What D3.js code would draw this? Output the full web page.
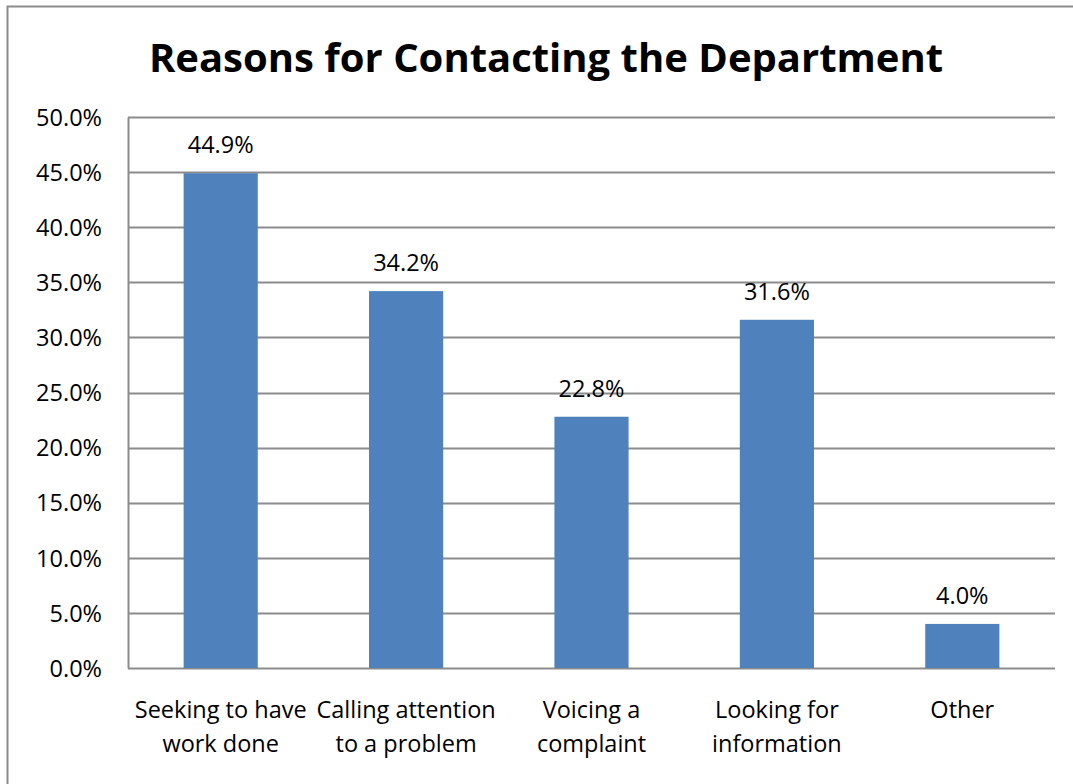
<!DOCTYPE html>
<html>
<head>
<meta charset="utf-8">
<script src="https://cdn.jsdelivr.net/npm/d3@7"></script>
<style>
  body { margin: 0; background: #fff; }
  text { font-family: "Open Sans", sans-serif; fill: #000; }
</style>
</head>
<body>
<div id="bar"></div>
<script>
// chart data
var categories = [["Seeking to have", "work done"], ["Calling attention", "to a problem"],
                  ["Voicing a", "complaint"], ["Looking for", "information"], ["Other"]];
var values = [44.9, 34.2, 22.8, 31.6, 4.0];
var yTicks = [0, 5, 10, 15, 20, 25, 30, 35, 40, 45, 50];

var W = 1073, H = 784;
var margin = {top: 117, right: 18, bottom: 116, left: 128},
    width = W - margin.left - margin.right,
    height = H - margin.top - margin.bottom;

var svg = d3.select("#bar").append("svg")
    .attr("width", W)
    .attr("height", H);

// outer frame
svg.append("rect")
    .attr("x", 7.5).attr("y", 6.5)
    .attr("width", W + 10).attr("height", H + 10)
    .style("fill", "none")
    .style("stroke", "#8c8c8c")
    .style("stroke-width", 2);

// title
svg.append("text")
    .attr("x", 546)
    .attr("y", 72)
    .attr("text-anchor", "middle")
    .style("font-size", "40px")
    .style("font-weight", "bold")
    .text("Reasons for Contacting the Department");

var g = svg.append("g")
    .attr("transform", "translate(" + margin.left + "," + margin.top + ")");

var idx = values.map(function(d, i) { return i; });
var x = d3.scaleBand()
    .domain(idx)
    .range([0, width])
    .paddingInner(0.6)
    .paddingOuter(0.3);
var y = d3.scaleLinear()
    .domain([0, 50])
    .range([height, 0]);

// gridlines
g.selectAll(".grid")
    .data(yTicks)
  .enter().append("line")
    .attr("class", "grid")
    .attr("x1", 0).attr("x2", width)
    .attr("y1", function(d) { return Math.round(y(d)) + 0.5; })
    .attr("y2", function(d) { return Math.round(y(d)) + 0.5; })
    .style("stroke", "#8c8c8c")
    .style("stroke-width", 2);

// y axis
var yAxis = g.append("g")
    .call(d3.axisLeft(y).tickValues(yTicks).tickSize(0).tickPadding(26)
      .tickFormat(function(d) { return d.toFixed(1) + "%"; }));
yAxis.select(".domain").style("stroke", "#8c8c8c").style("stroke-width", 2);
yAxis.selectAll("text")
    .style("font-size", "23.5px")
    .style("font-family", "'Open Sans', sans-serif")
    .attr("dy", "0.35em");

// bars
g.selectAll(".bar")
    .data(values)
  .enter().append("rect")
    .attr("class", "bar")
    .attr("x", function(d, i) { return x(i); })
    .attr("width", x.bandwidth())
    .attr("y", function(d) { return y(d); })
    .attr("height", function(d) { return height - y(d); })
    .style("fill", "#4f81bd");

// value labels
g.selectAll(".lbl")
    .data(values)
  .enter().append("text")
    .attr("class", "lbl")
    .attr("x", function(d, i) { return x(i) + x.bandwidth() / 2; })
    .attr("y", function(d) { return y(d) - 20; })
    .attr("text-anchor", "middle")
    .style("font-size", "23.5px")
    .text(function(d) { return d.toFixed(1) + "%"; });

// category labels
var cat = g.selectAll(".cat")
    .data(categories)
  .enter().append("text")
    .attr("class", "cat")
    .attr("text-anchor", "middle")
    .style("font-size", "23.5px");
cat.selectAll("tspan")
    .data(function(d, i) { return d.map(function(s) { return {s: s, i: i}; }); })
  .enter().append("tspan")
    .attr("x", function(d) { return x(d.i) + x.bandwidth() / 2; })
    .attr("y", function(d, j) { return height + 50 + j * 34; })
    .text(function(d) { return d.s; });
</script>
</body>
</html>
